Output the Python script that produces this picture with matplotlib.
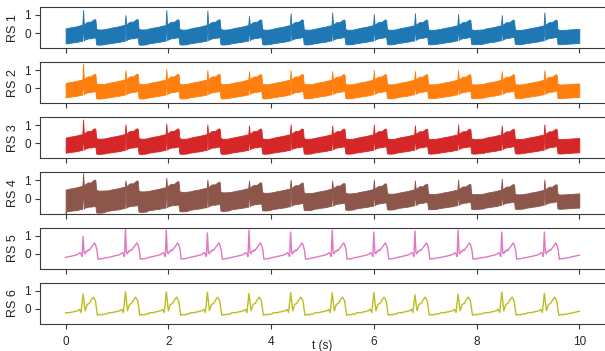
import numpy as np
import matplotlib
matplotlib.use("Agg")
import matplotlib.pyplot as plt

plt.rcParams['font.family'] = ['Liberation Sans', 'DejaVu Sans']

# ---------------- data ----------------
beat_times = [0.34, 1.165, 1.96, 2.76, 3.57, 4.38, 5.19, 6.00, 6.80, 7.64, 8.49, 9.32]
t_end = 10.0

# band (dense oscillation) envelope template, offsets in s relative to R peak
band_off = [-0.34, -0.335, -0.28, -0.22, -0.16, -0.10, -0.05, -0.015, 0.00, 0.015, 0.04, 0.08,
            0.11, 0.14, 0.18, 0.22, 0.24, 0.255, 0.30, 0.40, 0.50, 0.60, 0.68]
band_up = [0.26, 0.26, 0.30, 0.33, 0.36, 0.40, 0.44, 0.44, None, 0.46, 0.54, 0.62,
           0.64, 0.62, 0.70, 0.78, 0.74, 0.24, 0.20, 0.21, 0.23, 0.25, 0.26]
band_lo = [-0.57, -0.57, -0.55, -0.52, -0.50, -0.47, -0.43, -0.43, None, -0.40, -0.34, -0.31,
           -0.28, -0.29, -0.26, -0.24, -0.25, -0.62, -0.64, -0.62, -0.60, -0.58, -0.57]

rs1_r = [1.28, 1.00, 1.28, 1.25, 0.95, 1.10, 1.15, 1.05, 1.10, 1.05, 1.00, 1.15]
rs2_r = [1.35, 1.00, 1.05, 1.00, 0.95, 1.00, 0.95, 1.00, 0.95, 1.00, 0.95, 1.00]
rs3_r = [1.32, 1.05, 1.10, 1.05, 1.00, 1.05, 1.00, 1.05, 1.00, 1.05, 1.00, 1.05]
rs4_r = [1.40, 1.00, 1.15, 1.05, 1.00, 1.05, 1.00, 1.05, 1.00, 1.05, 1.10, 1.05]

rs1_scale = [1.00, 1.00, 0.98, 0.98, 0.97, 0.97, 0.96, 0.96, 0.95, 0.95, 0.94, 0.94]
rs2_scale = [0.95, 0.95, 0.94, 0.94, 0.93, 0.93, 0.92, 0.92, 0.91, 0.91, 0.90, 0.90]
rs3_scale = [1.00, 1.00, 0.99, 0.99, 0.98, 0.98, 0.97, 0.97, 0.96, 0.96, 0.95, 0.95]
rs4_scale = [1.45, 1.35, 1.28, 1.22, 1.16, 1.12, 1.08, 1.04, 1.00, 0.98, 0.96, 0.94]

rs1_shift, rs2_shift, rs3_shift, rs4_shift = 0.0, 0.05, 0.06, 0.05
rs4_start_low = -0.85

# clean traces
rs5_off = [-0.34, -0.31, -0.28, -0.25, -0.22, -0.19, -0.16, -0.13, -0.10, -0.08, -0.06, -0.04,
           -0.02, 0.00, 0.02, 0.04, 0.06, 0.08, 0.10, 0.12, 0.14, 0.16, 0.18, 0.20, 0.22, 0.24,
           0.27, 0.29, 0.32, 0.35, 0.38, 0.41, 0.44, 0.47, 0.50, 0.53, 0.56, 0.59, 0.62, 0.65, 0.68]
rs5_val = [-0.20, -0.18, -0.17, -0.14, -0.13, -0.10, -0.09, -0.06, -0.03, 0.03, 0.06, -0.02,
           -0.15, None, 0.05, 0.00, 0.15, 0.12, 0.22, 0.18, 0.28, 0.35, 0.42, 0.50, 0.60, 0.52,
           0.20, -0.30, -0.28, -0.27, -0.27, -0.24, -0.22, -0.22, -0.19, -0.17, -0.16, -0.13,
           -0.12, -0.09, -0.08]
rs5_r = [0.95, 1.35, 1.30, 1.15, 1.30, 1.20, 1.30, 1.20, 1.25, 1.30, 1.20, 1.20]

rs6_off = [-0.34, -0.30, -0.26, -0.22, -0.18, -0.14, -0.10, -0.07, -0.04, 0.00, 0.04, 0.08,
           0.12, 0.16, 0.20, 0.24, 0.28, 0.32, 0.36, 0.40, 0.44, 0.48, 0.52, 0.56, 0.60, 0.64, 0.68]
rs6_val = [-0.22, -0.20, -0.21, -0.17, -0.16, -0.12, -0.10, -0.02, -0.20, None, -0.10, 0.25,
           0.30, 0.50, 0.65, 0.45, -0.35, -0.30, -0.33, -0.28, -0.29, -0.25, -0.24, -0.20,
           -0.19, -0.15, -0.13]
rs6_r = [0.82, 0.95, 0.95, 0.92, 0.85, 0.90, 0.88, 0.90, 0.78, 0.82, 0.92, 0.86]

labels = ["RS 1", "RS 2", "RS 3", "RS 4", "RS 5", "RS 6"]
colors = ["#1f77b4", "#ff7f0e", "#d62728", "#8c564b", "#e377c2", "#bcbd22"]
xticks = [0, 2, 4, 6, 8, 10]
yticks = [0, 1]


def keep(k, off):
    t = beat_times[k] + off
    if t < -1e-9 or t > t_end + 1e-6:
        return False
    if k + 1 < len(beat_times):
        return t < beat_times[k + 1] + band_off[0] - 1e-9
    return True


def build_line(offs, vals, ramps):
    ts, ys = [], []
    for k, r in enumerate(beat_times):
        for o, v in zip(offs, vals):
            if keep(k, o):
                ts.append(r + o)
                ys.append(ramps[k] if v is None else v)
    return np.array(ts), np.array(ys)


def build_band(ramps, scales, shift, start_low=None):
    ts, us, ls = [], [], []
    for k, r in enumerate(beat_times):
        prev_u = None
        for o, u, l in zip(band_off, band_up, band_lo):
            if not keep(k, o):
                continue
            if u is None:
                uu = ramps[k]
                ll = prev_u
            else:
                c = (u + l) / 2 + shift
                h = (u - l) / 2 * scales[k]
                uu, ll = c + h, c - h
                prev_u = uu
            ts.append(r + o)
            us.append(uu)
            ls.append(ll)
    if start_low is not None:
        ls[0] = start_low
    return np.array(ts), np.array(us), np.array(ls)


bands = [
    build_band(rs1_r, rs1_scale, rs1_shift),
    build_band(rs2_r, rs2_scale, rs2_shift),
    build_band(rs3_r, rs3_scale, rs3_shift),
    build_band(rs4_r, rs4_scale, rs4_shift, rs4_start_low),
]
lines = [build_line(rs5_off, rs5_val, rs5_r), build_line(rs6_off, rs6_val, rs6_r)]

# ---------------- figure ----------------
fig = plt.figure(figsize=(6.05, 3.51), dpi=100)
gs = fig.add_gridspec(6, 1, left=0.066, right=1.0, top=0.980, bottom=0.077, hspace=0.34)
axes = [fig.add_subplot(gs[i]) for i in range(6)]
spine_c = "#3a3a3a"

for i, ax in enumerate(axes):
    if i < 4:
        t, u, l = bands[i]
        ax.fill_between(t, l, u, color=colors[i], linewidth=0.6, edgecolor=colors[i])
    else:
        t, y = lines[i - 4]
        ax.plot(t, y, color=colors[i], linewidth=1.0)
    ax.set_xlim(-0.5, 10.5)
    ax.set_ylim(-0.83, 1.44)
    ax.set_yticks(yticks)
    ax.set_xticks(xticks)
    ax.set_ylabel(labels[i], fontsize=9, labelpad=4, color="#262626")
    for s in ["top", "bottom", "left", "right"]:
        ax.spines[s].set_color(spine_c)
        ax.spines[s].set_linewidth(0.8)
    ax.spines["right"].set_visible(False)
    ax.tick_params(axis="both", length=3.5, width=0.8, color=spine_c,
                   labelsize=8.5, labelcolor="#262626", pad=3)
    ax.tick_params(axis="x", pad=5)
    if i < 5:
        ax.tick_params(axis="x", labelbottom=False)

xl = axes[-1].set_xlabel("t (s)", fontsize=8.5, color="#262626")
xl.set_verticalalignment("center")
axes[-1].xaxis.set_label_coords(0.5, -0.53)

fig.savefig("out.png", dpi=100)
